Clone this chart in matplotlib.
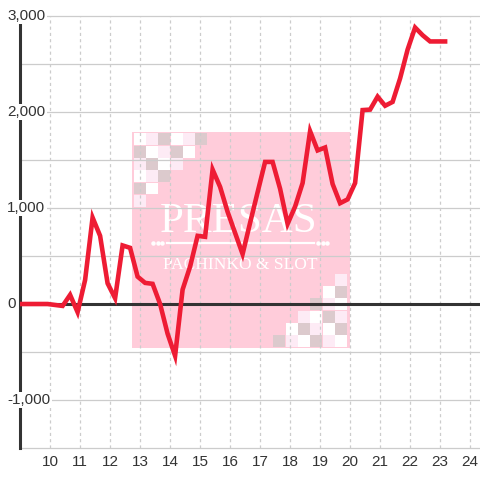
import matplotlib
matplotlib.use("Agg")
import matplotlib.pyplot as plt
from matplotlib.patches import Rectangle

plt.rcParams['font.family'] = ['Liberation Sans', 'DejaVu Sans']

# data: hour of day -> cumulative balance
hours = [9.0, 9.92, 10.17, 10.42, 10.67, 10.92, 11.17, 11.42, 11.67, 11.92,
         12.17, 12.42, 12.67, 12.92, 13.17, 13.42, 13.67, 13.92, 14.17, 14.42,
         14.67, 14.92, 15.17, 15.42, 15.67, 15.92, 16.17, 16.42, 16.67, 16.92,
         17.17, 17.42, 17.67, 17.92, 18.17, 18.42, 18.67, 18.92, 19.17, 19.42,
         19.67, 19.92, 20.17, 20.42, 20.67, 20.92, 21.17, 21.42, 21.67, 21.92,
         22.17, 22.42, 22.67, 22.92, 23.17]
balance = [0, 0, -10, -20, 95, -85, 250, 900, 710, 215,
           60, 610, 585, 285, 220, 210, 0, -310, -540, 150,
           390, 710, 700, 1400, 1220, 960, 740, 520, 846, 1164,
           1480, 1480, 1200, 835, 1015, 1260, 1800, 1600, 1630, 1250,
           1050, 1090, 1260, 2020, 2025, 2160, 2065, 2105, 2350, 2650,
           2880, 2800, 2735, 2735, 2735]

x_ticks = list(range(10, 25))
y_grid = [-1500, -1000, -500, 0, 500, 1000, 1500, 2000, 2500, 3000]
y_labels = [-1000, 0, 1000, 2000, 3000]

fig = plt.figure(figsize=(4.8, 4.8), dpi=100)
ax = fig.add_axes([20 / 480, 32 / 480, 460 / 480, 432 / 480])
ax.set_xlim(9, 9 + 460 / 30)
ax.set_ylim(-1500, 3000)

# grid
for v in y_grid:
    if v != 0:
        ax.axhline(v, color='#cccccc', lw=0.9, zorder=0.5, clip_on=False)
for t in x_ticks:
    ax.axvline(t, color='#cccccc', lw=0.9, ls=(0, (2.5, 2.5)), zorder=0.5)

# watermark logo
ax.add_patch(Rectangle((12.73, -458), 7.27, 2250, facecolor='#ffccda',
                       edgecolor='none', zorder=0.1))
cell_colors = {'w': '#ffffff', 'l': '#fdebf5', 'g': '#dccacd'}
cw, ch = 0.40, 124
top_left = ['wlgwlg', 'gwlgw', 'lgwl', 'wlg', 'gw', 'l']
for r, row in enumerate(top_left):
    for c, code in enumerate(row):
        ax.add_patch(Rectangle((12.79 + c * 0.411, 1781 - (r + 1) * 128),
                               cw, ch, facecolor=cell_colors[code],
                               edgecolor='none', zorder=0.2))
bottom_right = ['glwglw', ' wglwg', '  lwgl', '   glw', '    wg', '     l']
for r, row in enumerate(bottom_right):
    for c, code in enumerate(row):
        if code == ' ':
            continue
        ax.add_patch(Rectangle((17.44 + c * 0.411, -450 + r * 128),
                               cw, ch, facecolor=cell_colors[code],
                               edgecolor='none', zorder=0.2))
ax.text(16.27, 854, 'PRESAS', color='white', fontsize=31,
        family='Liberation Serif', ha='center', va='center', zorder=0.3)
ax.plot([13.9, 18.8], [635, 635], color='white', lw=1.6, zorder=0.3)
ax.plot([13.45, 13.6, 13.75, 18.95, 19.1, 19.25], [635] * 6, 'o',
        color='white', ms=2.2, zorder=0.3)
ax.text(16.33, 404, 'PACHINKO & SLOT', color='white', fontsize=12.5,
        family='Liberation Serif', ha='center', va='center', zorder=0.3)

# zero line
ax.axhline(0, color='#333333', lw=2.2, zorder=2)

# main line
ax.plot(hours, balance, color='#ee1c34', lw=3.3, solid_joinstyle='miter',
        zorder=3)

# axes styling
for s in ['top', 'right', 'bottom']:
    ax.spines[s].set_visible(False)
ax.spines['left'].set_color('#333333')
ax.spines['left'].set_linewidth(2.2)
ax.spines['left'].set_bounds(-1500, 2917)
ax.spines['left'].set_zorder(2.5)

ax.set_xticks(x_ticks)
ax.set_xticklabels([str(t) for t in x_ticks])
ax.tick_params(axis='x', length=0, pad=5, labelsize=11, labelcolor='#333333')
ax.set_yticks([])

ytrans = ax.get_yaxis_transform()
for v in y_labels:
    ax.text(-13 / 460, v, f'{v:,}', transform=ytrans, ha='left', va='center',
            fontsize=11, color='#333333', zorder=4, clip_on=False,
            bbox=dict(facecolor='white', edgecolor='none', pad=1.0))

fig.savefig('out.png', dpi=100)
